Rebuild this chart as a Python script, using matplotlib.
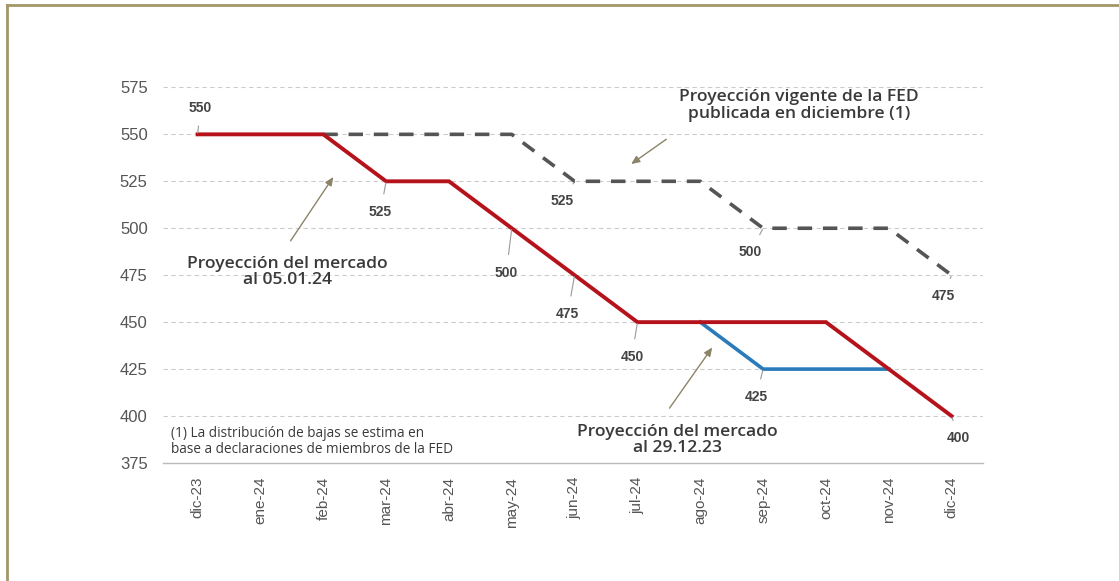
import matplotlib

matplotlib.use("Agg")
import matplotlib.pyplot as plt
from matplotlib.lines import Line2D

# --- data ---
months = ["dic-23", "ene-24", "feb-24", "mar-24", "abr-24", "may-24", "jun-24",
          "jul-24", "ago-24", "sep-24", "oct-24", "nov-24", "dic-24"]
# market projection at 05.01.24 (red)
market_jan = [550, 550, 550, 525, 525, 500, 475, 450, 450, 450, 450, 425, 400]
# market projection at 29.12.23 (blue part, ago-24 .. nov-24)
market_dec_idx = [8, 9, 10, 11]
market_dec = [450, 425, 425, 425]
# FED projection published in December (grey dashed, feb-24 .. dic-24)
fed_idx = [2, 3, 4, 5, 6, 7, 8, 9, 10, 11, 12]
fed = [550, 550, 550, 550, 525, 525, 525, 500, 500, 500, 475]
yticks = [375, 400, 425, 450, 475, 500, 525, 550, 575]

RED = "#b5121b"
BLUE = "#2b7bba"
GREY = "#555555"
ARROW = "#8c8468"
TXT = "#3a3a3a"

plt.rcParams["font.family"] = ["Liberation Sans", "DejaVu Sans"]
ANN_FONT = ["Open Sans", "DejaVu Sans"]

fig = plt.figure(figsize=(11.19, 5.81), dpi=100)
ax = fig.add_axes([0.1457, 0.2031, 0.7328, 0.6497])

x = list(range(len(months)))
ax.plot(fed_idx, fed, color=GREY, lw=2.6, dashes=(4, 3), zorder=3)
ax.plot(market_dec_idx, market_dec, color=BLUE, lw=2.6, zorder=4,
        solid_joinstyle="miter")
ax.plot(x, market_jan, color=RED, lw=2.8, zorder=5, solid_joinstyle="miter")

ax.set_xlim(-0.55, 12.5)
ax.set_ylim(375, 576)
ax.set_yticks(yticks)
ax.set_xticks(x)
ax.set_xticklabels(months, rotation=90)
ax.tick_params(axis="both", length=0, colors="#555555")
ax.tick_params(axis="x", pad=10, labelsize=11)
ax.tick_params(axis="y", pad=11, labelsize=12)
for s in ["top", "right", "left"]:
    ax.spines[s].set_visible(False)
ax.spines["bottom"].set_color("#bbbbbb")
ax.spines["bottom"].set_linewidth(1.0)
ax.yaxis.grid(True, color="#cccccc", lw=0.8, dashes=(4, 3))
ax.set_axisbelow(True)

# value labels with small leader lines: (x index, value, offset in points)
value_labels = [
    (0, market_jan[0], (2, 19)),
    (3, market_jan[3], (-4, -22)),
    (5, market_jan[5], (-4, -32)),
    (6, market_jan[6], (-5, -28)),
    (7, market_jan[7], (-4, -25)),
    (9, market_dec[1], (-5, -20)),
    (12, market_jan[12], (5, -16)),
    (6, fed[4], (-9, -14)),
    (9, fed[7], (-9, -17)),
    (12, fed[10], (-6, -15)),
]
for xi, v, off in value_labels:
    ax.annotate(str(v), xy=(xi, v), xytext=off, textcoords="offset points",
                ha="center", va="center", fontsize=10, fontweight="bold",
                color="#444444", zorder=6,
                arrowprops=dict(arrowstyle="-", color="#999999", lw=0.8,
                                shrinkA=6, shrinkB=1))

arrow_kw = dict(arrowstyle="-|>,head_length=0.5,head_width=0.22",
                color=ARROW, lw=1.0, shrinkA=0, shrinkB=0)
ann_kw = dict(ha="center", va="center", fontsize=12.6, fontweight=600,
              color=TXT, linespacing=1.05, family=ANN_FONT)

ax.annotate("", xy=(6.90, 534.2), xytext=(7.46, 547.4), arrowprops=arrow_kw)
ax.text(9.57, 565.5, "Proyección vigente de la FED\npublicada en diciembre (1)",
        **ann_kw)

ax.annotate("", xy=(2.16, 527.3), xytext=(1.48, 493.3), arrowprops=arrow_kw)
ax.text(1.43, 476.8, "Proyección del mercado\nal 05.01.24", **ann_kw)

ax.annotate("", xy=(8.19, 436.5), xytext=(7.51, 404.2), arrowprops=arrow_kw)
ax.text(7.63, 387.2, "Proyección del mercado\nal 29.12.23", **ann_kw)

ax.text(-0.43, 386.5,
        "(1) La distribución de bajas se estima en\n"
        "base a declaraciones de miembros de la FED",
        ha="left", va="center", fontsize=9.8, color=TXT, linespacing=1.05,
        family=ANN_FONT)

# frame border (left and top only visible)
border = "#a39767"
fig.add_artist(Line2D([0.0063, 0.0063], [0.0, 0.9914], color=border, lw=2.0,
                      transform=fig.transFigure))
fig.add_artist(Line2D([0.0063, 1.0], [0.9914, 0.9914], color=border, lw=2.0,
                      transform=fig.transFigure))

fig.savefig("out.png", dpi=100)
